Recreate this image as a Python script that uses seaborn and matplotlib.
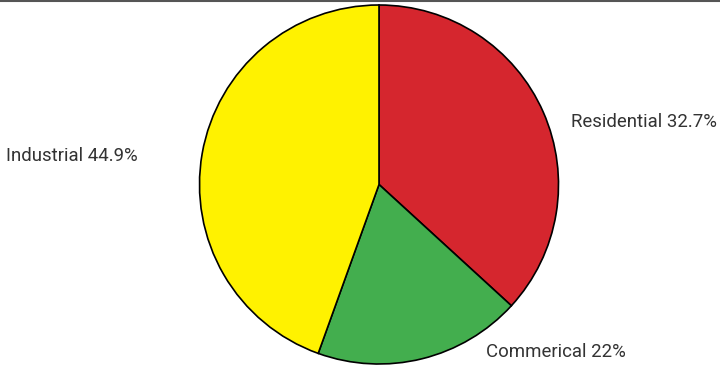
import matplotlib
matplotlib.use("Agg")
import matplotlib.pyplot as plt
from matplotlib.lines import Line2D
import seaborn as sns

categories = ["Residential", "Commerical", "Industrial"]
shares = [36.8, 18.7, 44.5]          # wedge sizes as drawn
label_pct = ["32.7%", "22%", "44.9%"]  # printed labels
colors = ["#D5262E", "#43AE4E", "#FFF200"]

sns.set_theme(style="white")
plt.rcParams["font.family"] = ["Roboto", "DejaVu Sans"]

fig = plt.figure(figsize=(7.2, 3.66), dpi=100)
ax = fig.add_axes([0, 0, 1, 1])
ax.set_xlim(0, 720)
ax.set_ylim(0, 366)

wedges, _ = ax.pie(
    shares, colors=colors, startangle=90, counterclock=False,
    center=(379, 181.5), radius=179.5, frame=True,
    wedgeprops=dict(edgecolor="black", linewidth=1.2),
)
ax.set_xlim(0, 720)
ax.set_ylim(0, 366)
ax.set_aspect("auto")
ax.axis("off")

label_pos = [(571, 244, "left"), (486, 14, "left"), (6, 210, "left")]
for cat, pct, (x, y, ha) in zip(categories, label_pct, label_pos):
    ax.text(x, y, f"{cat} {pct}", ha=ha, va="center", fontsize=13.4,
            color="#333333")

fig.add_artist(Line2D([0, 1], [0.998, 0.998], transform=fig.transFigure,
                      color="#555555", linewidth=1.5))

fig.savefig("out.png", dpi=100)
